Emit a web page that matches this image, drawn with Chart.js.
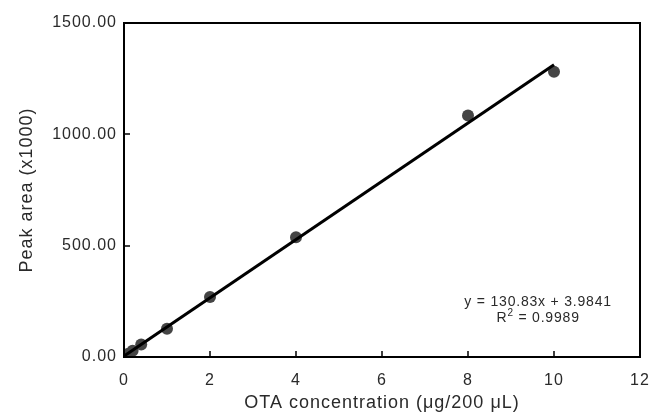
<!DOCTYPE html>
<html>
<head>
<meta charset="utf-8">
<script src="https://cdn.jsdelivr.net/npm/chart.js@4.4.1/dist/chart.umd.min.js"></script>
<style>
  html, body { margin: 0; padding: 0; background: #fff; }
  #wrap { width: 653px; height: 415px; }
</style>
</head>
<body>
<div id="wrap"><canvas id="calib"></canvas></div>
<script>
// Calibration points
const concentrations = [0, 0.05, 0.1, 0.2, 0.4, 1, 2, 4, 8, 10];
const peakAreas = [1, 8, 15, 28, 56, 127, 269, 538, 1085, 1281];

// Fitted line end points (y = 130.83x + 3.9841)
const fitX = [0, 10];
const fitY = [3.98, 1312.28];

const xTicks = [0, 2, 4, 6, 8, 10, 12];
const yTicks = [0, 500, 1000, 1500];

const equationText = 'y = 130.83x + 3.9841';
const r2Text = '0.9989';

const textColor = '#2a2a2a';
const fontFamily = '"Liberation Sans", Arial, sans-serif';

// Frame, inward tick marks, equation label
const framePlugin = {
    id: 'frame',
    beforeDraw(chart) {
        chart.ctx.letterSpacing = '1px';
    },
    afterDraw(chart) {
        const ctx = chart.ctx;
        const area = chart.chartArea;
        const xs = chart.scales.x;
        const ys = chart.scales.y;
        ctx.save();
        ctx.letterSpacing = '0px';
        ctx.strokeStyle = '#000';
        ctx.lineWidth = 2;
        ctx.strokeRect(area.left, area.top, area.right - area.left, area.bottom - area.top);

        ctx.lineWidth = 1.5;
        ctx.beginPath();
        xTicks.forEach(v => {
            const px = Math.round(xs.getPixelForValue(v));
            ctx.moveTo(px, area.bottom);
            ctx.lineTo(px, area.bottom - 6);
        });
        yTicks.forEach(v => {
            const py = Math.round(ys.getPixelForValue(v));
            ctx.moveTo(area.left, py);
            ctx.lineTo(area.left + 6, py);
        });
        ctx.stroke();

        // equation + R squared
        const cx = xs.getPixelForValue(9.63);
        const y1 = ys.getPixelForValue(248);
        const y2 = ys.getPixelForValue(175);
        const mainFont = '14px ' + fontFamily;
        const supFont = '10px ' + fontFamily;
        ctx.fillStyle = textColor;
        ctx.letterSpacing = '0.8px';
        ctx.font = mainFont;
        ctx.textBaseline = 'middle';
        ctx.textAlign = 'center';
        ctx.fillText(equationText, cx, y1);

        ctx.textAlign = 'left';
        const rW = ctx.measureText('R').width;
        const restW = ctx.measureText(' = ' + r2Text).width;
        ctx.font = supFont;
        const sW = ctx.measureText('2').width;
        const x0 = cx - (rW + sW + restW) / 2;
        ctx.font = mainFont;
        ctx.fillText('R', x0, y2);
        ctx.font = supFont;
        ctx.fillText('2', x0 + rW, y2 - 5);
        ctx.font = mainFont;
        ctx.fillText(' = ' + r2Text, x0 + rW + sW, y2);
        ctx.restore();
    }
};

const ctx = document.getElementById('calib').getContext('2d');

const calibChart = new Chart(ctx, {
    type: 'scatter',
    data: {
        datasets: [
            {
                type: 'line',
                label: 'fit',
                data: fitX.map((x, i) => ({ x: x, y: fitY[i] })),
                borderColor: '#000',
                borderWidth: 3,
                pointRadius: 0,
                fill: false,
                order: 0
            },
            {
                label: 'OTA',
                data: concentrations.map((x, i) => ({ x: x, y: peakAreas[i] })),
                backgroundColor: '#454545',
                borderColor: '#454545',
                borderWidth: 0,
                pointRadius: 6,
                order: 1
            }
        ]
    },
    options: {
        responsive: true,
        maintainAspectRatio: false,
        animation: false,
        layout: { padding: { top: 23, right: 13, left: 0, bottom: 0 } },
        plugins: {
            legend: { display: false },
            tooltip: { enabled: false }
        },
        scales: {
            x: {
                type: 'linear',
                min: 0,
                max: 12,
                grid: { display: false, drawTicks: false },
                border: { display: false },
                ticks: {
                    stepSize: 2,
                    padding: 14,
                    color: textColor,
                    font: { family: fontFamily, size: 16 }
                },
                title: {
                    display: true,
                    text: 'OTA concentration (μg/200 μL)',
                    color: textColor,
                    padding: { top: 0, bottom: 1 },
                    font: { family: fontFamily, size: 18 }
                },
                afterFit(scale) {
                    scale.height = 58;
                    scale.paddingLeft = 0;
                    scale.paddingRight = 0;
                }
            },
            y: {
                type: 'linear',
                min: 0,
                max: 1500,
                grid: { display: false, drawTicks: false },
                border: { display: false },
                ticks: {
                    stepSize: 500,
                    padding: 7,
                    color: textColor,
                    font: { family: fontFamily, size: 16 },
                    callback: v => v.toFixed(2)
                },
                title: {
                    display: true,
                    text: 'Peak area (x1000)',
                    color: textColor,
                    padding: { top: 16, bottom: 0 },
                    font: { family: fontFamily, size: 18 }
                },
                afterFit(scale) { scale.width = 124; }
            }
        }
    },
    plugins: [framePlugin]
});
</script>
</body>
</html>
